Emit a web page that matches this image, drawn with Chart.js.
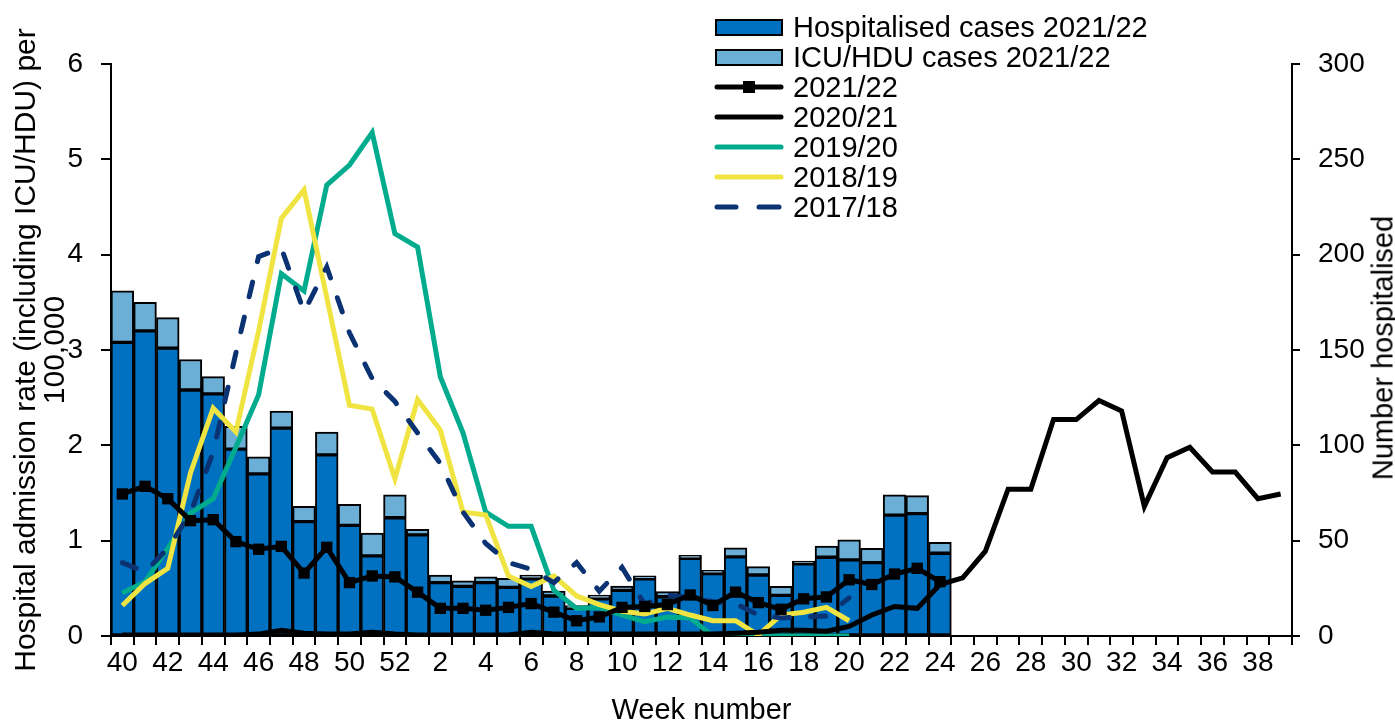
<!DOCTYPE html>
<html>
<head>
<meta charset="utf-8">
<title>Hospital admissions</title>
<script src="https://cdn.jsdelivr.net/npm/chart.js@4.4.1/dist/chart.umd.min.js"></script>
<style>
  body { margin: 0; background: #fff; }
  #wrap {
    position: relative;
    width: 1395px;
    height: 722px;
    font-family: "Liberation Sans", Arial, sans-serif;
    color: #000;
  }
  #legend { position: absolute; left: 713px; top: 12px; }
  .legend-row { display: flex; align-items: center; height: 30px; font-size: 29px; white-space: nowrap; }
  .legend-row svg { margin-right: 8px; flex: none; }
  #rightTitle {
    position: absolute;
    left: 1383px;
    top: 348px;
    transform: translate(-50%, -50%) rotate(-90deg);
    font-size: 29px;
    white-space: nowrap;
  }
</style>
</head>
<body>
<div id="wrap">
  <canvas id="admissionsChart" width="1395" height="722"></canvas>
  <div id="legend"></div>
  <div id="rightTitle">Number hospitalised</div>
</div>
<script>
// Week 40 of one year through week 39 of the next
const weeks = [
  "40", "41", "42", "43", "44", "45", "46", "47", "48", "49", "50", "51", "52",
  "1", "2", "3", "4", "5", "6", "7", "8", "9", "10", "11", "12", "13", "14", "15",
  "16", "17", "18", "19", "20", "21", "22", "23", "24", "25", "26", "27", "28",
  "29", "30", "31", "32", "33", "34", "35", "36", "37", "38", "39"
];

// Numbers hospitalised this season (right axis), week 40 to week 24
const hospitalised = [
  154, 160, 151, 129, 127, 98, 85, 109, 60, 95, 58, 42, 62,
  53, 28, 26, 28, 25.5, 30, 21, 14.5, 19.5, 24, 30, 20.6, 40.7, 32.7, 41.5,
  32, 21.3, 37.8, 41.3, 39.9, 38.5, 63.4, 64.2, 43.4
];
const icuHdu = [
  27, 15, 16, 16, 9, 12, 9, 9, 8, 12, 11, 12, 12,
  3, 4, 3, 3, 4.8, 2, 2.5, 1.5, 2, 2.2, 1.5, 2.7, 1.6, 1.8, 4.7,
  4.4, 4.7, 1.5, 5.9, 10.5, 7.5, 10.7, 9.4, 5.7
];

// Admission rates per 100,000 (left axis)
const rate2122 = [
  1.49, 1.57, 1.44, 1.21, 1.22, 0.99, 0.91, 0.94, 0.66, 0.93, 0.56, 0.63, 0.62,
  0.46, 0.29, 0.29, 0.27, 0.30, 0.34, 0.25, 0.16, 0.20, 0.30, 0.31, 0.33, 0.43, 0.32, 0.46,
  0.35, 0.28, 0.39, 0.41, 0.59, 0.54, 0.65, 0.71, 0.57
];
const rate2021 = [
  0.01, 0.01, 0.01, 0.01, 0.01, 0.01, 0.02, 0.06, 0.03, 0.02, 0.02, 0.04, 0.02,
  0.01, 0.01, 0.01, 0.01, 0.01, 0.04, 0.02, 0.02, 0.02, 0.02, 0.02, 0.02, 0.02, 0.02, 0.03,
  0.04, 0.06, 0.06, 0.05, 0.10, 0.22, 0.31, 0.29, 0.54, 0.61, 0.89, 1.54, 1.54,
  2.27, 2.27, 2.47, 2.36, 1.36, 1.87, 1.98, 1.72, 1.72, 1.44, 1.49
];
const rate1920 = [
  0.45, 0.57, 0.92, 1.29, 1.44, 1.98, 2.53, 3.80, 3.62, 4.73, 4.94, 5.28, 4.22,
  4.08, 2.72, 2.13, 1.30, 1.15, 1.15, 0.48, 0.29, 0.30, 0.22, 0.15, 0.20, 0.19, 0, 0,
  0, 0, 0, 0, 0
];
const rate1819 = [
  0.32, 0.55, 0.71, 1.71, 2.39, 2.14, 3.20, 4.38, 4.68, 3.55, 2.42, 2.38, 1.65,
  2.48, 2.16, 1.30, 1.27, 0.63, 0.52, 0.63, 0.42, 0.33, 0.26, 0.23, 0.29, 0.22, 0.16, 0.16,
  0.01, 0.22, 0.25, 0.30, 0.16
];
const rate1718 = [
  0.77, 0.67, 0.92, 1.29, 1.93, 2.97, 3.98, 4.07, 3.40, 3.87, 3.18, 2.70, 2.46,
  2.13, 1.81, 1.30, 0.97, 0.77, 0.70, 0.56, 0.77, 0.47, 0.72, 0.33, 0.43, 0.40, 0.36, 0.34,
  0.22, 0.19, 0.20, 0.21, 0.40
];

const FONT = "'Liberation Sans', Arial, sans-serif";
const DARK_BLUE = "#0070c0";
const LIGHT_BLUE = "#6baed6";
const GREEN = "#00ab8e";
const YELLOW = "#f0e442";
const NAVY = "#0b3272";

document.addEventListener("DOMContentLoaded", () => {
  const ctx = document.getElementById("admissionsChart");
  const legendDiv = document.getElementById("legend");

  Chart.defaults.font.family = FONT;
  Chart.defaults.color = "#000";

  const lineBase = { type: "line", yAxisID: "y", borderWidth: 5, pointRadius: 0, pointHoverRadius: 0, tension: 0, fill: false };
  const barBase = {
    type: "bar", yAxisID: "y1", stack: "cases", borderColor: "#000", borderWidth: 2,
    borderSkipped: false, barPercentage: 1, categoryPercentage: 1, order: 10
  };

  const datasets = [
    { ...barBase, label: "Hospitalised cases 2021/22", data: hospitalised, backgroundColor: DARK_BLUE },
    { ...barBase, label: "ICU/HDU cases 2021/22", data: icuHdu, backgroundColor: LIGHT_BLUE },
    {
      ...lineBase, label: "2021/22", data: rate2122, borderColor: "#000", backgroundColor: "#000",
      pointStyle: "rect", pointRadius: 8, pointBorderWidth: 0, order: 1
    },
    { ...lineBase, label: "2020/21", data: rate2021, borderColor: "#000", order: 2 },
    { ...lineBase, label: "2019/20", data: rate1920, borderColor: GREEN, order: 5 },
    { ...lineBase, label: "2018/19", data: rate1819, borderColor: YELLOW, order: 4 },
    {
      ...lineBase, label: "2017/18", data: rate1718, borderColor: NAVY,
      borderDash: [15, 21], borderCapStyle: "round", order: 3
    }
  ];

  const axisLine = { display: true, color: "#000", width: 2 };
  const tickMarks = (len) => ({ drawOnChartArea: false, drawTicks: true, tickLength: len, color: "#000", lineWidth: 2 });

  new Chart(ctx, {
    type: "bar",
    data: { labels: weeks, datasets },
    options: {
      responsive: false,
      animation: false,
      layout: { padding: { top: 64, left: 0, right: 0, bottom: 0 } },
      plugins: { legend: { display: false }, tooltip: { enabled: false } },
      scales: {
        x: {
          stacked: true,
          offset: true,
          grid: { ...tickMarks(9), offset: true },
          border: axisLine,
          ticks: {
            autoSkip: false,
            maxRotation: 0,
            padding: 1,
            font: { size: 28 },
            callback: (value, i) => (i % 2 === 0 ? weeks[i] : "")
          },
          title: { display: true, text: "Week number", font: { size: 29, lineHeight: 1 }, padding: { top: 0, bottom: -3 } },
          afterFit: (scale) => { scale.height = 86; }
        },
        y: {
          position: "left",
          stacked: false,
          min: 0,
          max: 6,
          grid: tickMarks(10),
          border: axisLine,
          ticks: { stepSize: 1, padding: 18, font: { size: 28 } },
          title: {
            display: true,
            text: ["Hospital admission rate (including ICU/HDU) per", "100,000"],
            font: { size: 30, lineHeight: 0.97 },
            padding: { top: 12, bottom: 0 }
          },
          afterFit: (scale) => { scale.width = 111; }
        },
        y1: {
          position: "right",
          stacked: true,
          min: 0,
          max: 300,
          grid: tickMarks(8),
          border: axisLine,
          ticks: { stepSize: 50, padding: 18, font: { size: 28 } },
          afterFit: (scale) => { scale.width = 103; }
        }
      }
    }
  });

  // Legend, listed in the same order as the series above
  const swatch = (ds) => {
    if (ds.type === "bar") {
      return `<rect x="3" y="8" width="66" height="15" fill="${ds.backgroundColor}" stroke="#000" stroke-width="2"/>`;
    }
    if (ds.borderDash) {
      return `<line x1="4" y1="15" x2="23" y2="15" stroke="${ds.borderColor}" stroke-width="5" stroke-linecap="round"/>
              <line x1="46" y1="15" x2="66" y2="15" stroke="${ds.borderColor}" stroke-width="5" stroke-linecap="round"/>`;
    }
    let marker = "";
    if (ds.pointStyle === "rect") {
      marker = `<rect x="30" y="9" width="12" height="12" fill="${ds.borderColor}"/>`;
    }
    return `<line x1="4" y1="15" x2="68" y2="15" stroke="${ds.borderColor}" stroke-width="5" stroke-linecap="round"/>${marker}`;
  };

  legendDiv.innerHTML = "";
  datasets.forEach(ds => {
    const row = document.createElement("div");
    row.className = "legend-row";
    row.innerHTML = `<svg width="72" height="30">${swatch(ds)}</svg><span>${ds.label}</span>`;
    legendDiv.appendChild(row);
  });
});
</script>
</body>
</html>
